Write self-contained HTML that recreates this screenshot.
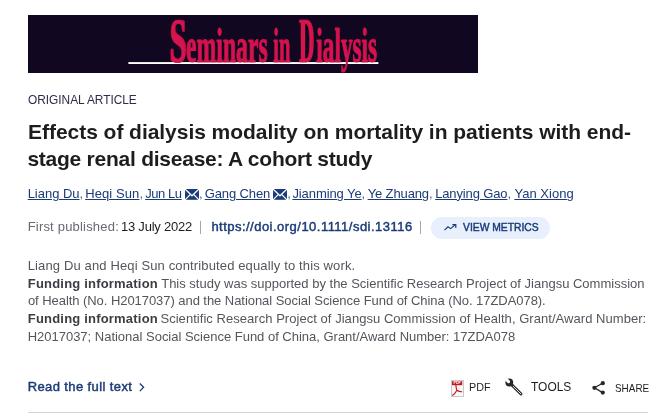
<!DOCTYPE html>
<html lang="en"><head><meta charset="utf-8"><title>Effects of dialysis modality on mortality in patients with end-stage renal disease: A cohort study</title>
<style>
html,body{margin:0;padding:0;background:#fff;}
body{width:668px;height:417px;position:relative;overflow:hidden;font-family:"Liberation Sans",sans-serif;color:#1c1d1e;}
.l{position:absolute;white-space:nowrap;line-height:1;transform-origin:0 0;}
.l a{text-decoration:underline;text-decoration-thickness:1px;text-underline-offset:1px;}
.cm{color:#5f6670;letter-spacing:0;}
.banner{position:absolute;left:28px;top:15px;width:450px;height:58px;background:#110720;overflow:hidden;}
.hr{position:absolute;left:28px;top:412px;width:620px;height:1px;background:#d2d4d4;}
.pill{position:absolute;left:431px;top:217px;width:119px;height:22px;border-radius:11px;background:#e8f0fd;}
.bar{position:absolute;width:1px;height:13px;top:221px;background:#a3a6ab;}
svg{position:absolute;overflow:visible;}
.env{top:189px;}
</style></head><body>
<svg class="banner" width="450" height="58" viewBox="28 15 450 58" style="left:28px;top:15px;background:#110720;overflow:hidden">
<rect x="128.4" y="62.1" width="250" height="1.9" fill="#fff"/>
<defs><filter id="hb" x="-10%" y="-10%" width="120%" height="120%"><feOffset in="SourceGraphic" dx="1" dy="0" result="a"/><feMerge><feMergeNode in="a"/><feMergeNode in="SourceGraphic"/></feMerge></filter></defs><g font-family="Liberation Serif, serif" font-weight="bold" fill="#d5124d" stroke="#d5124d" stroke-linejoin="round">
<g filter="url(#hb)"><text transform="translate(169.25,62.3) scale(0.4804,1)" font-size="63.5" stroke-width="0.6">S</text></g>
<text transform="translate(186.02,62.3) scale(0.4892,1)" font-size="48.5" stroke-width="1.2">eminars</text>
<text transform="translate(273.33,62.3) scale(0.4244,1)" font-size="48.5" stroke-width="1.2">in</text>
<g filter="url(#hb)"><text transform="translate(298.73,62.3) scale(0.3277,1)" font-size="63.5" stroke-width="0.3">D</text></g>
<text transform="translate(316.32,62.3) scale(0.4805,1)" font-size="48.5" stroke-width="1.2">ialysis</text>
</g></svg>
<div class="l" style="left:28.16px;top:93px;font-size:13px;color:#2c2c4c;transform:scaleX(0.9126);">ORIGINAL ARTICLE</div>
<div class="pill"></div>
<div class="l" style="left:28.08px;top:121px;font-size:21px;color:#1c1d1e;font-weight:bold;letter-spacing:-0.043px;">Effects of dialysis modality on mortality in patients with end-</div>
<div class="l" style="left:27.39px;top:148px;font-size:21px;color:#1c1d1e;font-weight:bold;letter-spacing:-0.242px;">stage renal disease: A cohort study</div>
<div class="l" style="left:27.67px;top:187px;font-size:13px;color:#1b3b78;letter-spacing:-0.023px;"><a>Liang Du</a><span class="cm">,</span></div>
<div class="l" style="left:85.17px;top:187px;font-size:13px;color:#1b3b78;letter-spacing:0.097px;"><a>Heqi Sun</a><span class="cm">,</span></div>
<div class="l" style="left:145.17px;top:187px;font-size:13px;color:#1b3b78;letter-spacing:-0.428px;"><a>Jun Lu</a></div>
<div class="l" style="left:204.75px;top:187px;font-size:13px;color:#1b3b78;letter-spacing:-0.129px;"><a>Gang Chen</a></div>
<div class="l" style="left:292.42px;top:187px;font-size:13px;color:#1b3b78;letter-spacing:-0.088px;"><a>Jianming Ye</a><span class="cm">,</span></div>
<div class="l" style="left:367.63px;top:187px;font-size:13px;color:#1b3b78;letter-spacing:-0.117px;"><a>Ye Zhuang</a><span class="cm">,</span></div>
<div class="l" style="left:435.17px;top:187px;font-size:13px;color:#1b3b78;letter-spacing:-0.135px;"><a>Lanying Gao</a><span class="cm">,</span></div>
<div class="l" style="left:514.38px;top:187px;font-size:13px;color:#1b3b78;letter-spacing:0.053px;"><a>Yan Xiong</a></div>
<div class="l" style="left:27.67px;top:220px;font-size:13px;color:#666a71;letter-spacing:0.197px;">First published:</div>
<div class="l" style="left:121px;top:220px;font-size:13px;color:#1c1d1e;letter-spacing:-0.233px;">13 July 2022</div>
<div class="l" style="left:211.38px;top:220px;font-size:13px;color:#1b3b78;-webkit-text-stroke:0.45px #1b3b78;letter-spacing:0.477px;">https://doi.org/10.1111/sdi.13116</div>
<div class="l" style="left:463.19px;top:222px;font-size:11px;color:#1b3b78;-webkit-text-stroke:0.45px #1b3b78;transform:scaleX(0.9382);">VIEW METRICS</div>
<div class="l" style="left:27.67px;top:259px;font-size:13px;color:#53565c;letter-spacing:0.136px;">Liang Du and Heqi Sun contributed equally to this work.</div>
<div class="l" style="left:27.75px;top:277px;font-size:13px;color:#3a3d42;font-weight:bold;letter-spacing:0.201px;">Funding information</div>
<div class="l" style="left:161.19px;top:277px;font-size:13px;color:#53565c;letter-spacing:-0.001px;">This study was supported by the Scientific Research Project of Jiangsu Commission</div>
<div class="l" style="left:27.92px;top:294px;font-size:13px;color:#53565c;letter-spacing:-0.055px;">of Health (No. H2017037) and the National Social Science Fund of China (No. 17ZDA078).</div>
<div class="l" style="left:27.75px;top:312px;font-size:13px;color:#3a3d42;font-weight:bold;letter-spacing:0.201px;">Funding information</div>
<div class="l" style="left:160.45px;top:312px;font-size:13px;color:#53565c;letter-spacing:0.042px;">Scientific Research Project of Jiangsu Commission of Health, Grant/Award Number:</div>
<div class="l" style="left:27.67px;top:330px;font-size:13px;color:#53565c;letter-spacing:-0.01px;">H2017037; National Social Science Fund of China, Grant/Award Number: 17ZDA078</div>
<div class="l" style="left:27.71px;top:380px;font-size:13px;color:#1b3b78;-webkit-text-stroke:0.45px #1b3b78;letter-spacing:0.391px;">Read the full text</div>
<div class="l" style="left:469px;top:382px;font-size:11px;color:#1c1d1e;transform:scaleX(0.9795);">PDF</div>
<div class="l" style="left:531.22px;top:381px;font-size:12.5px;color:#1c1d1e;transform:scaleX(0.9564);">TOOLS</div>
<div class="l" style="left:614.83px;top:383px;font-size:11px;color:#1c1d1e;transform:scaleX(0.901);">SHARE</div>
<svg class="env" style="left:184.6px" width="14" height="10.8" viewBox="0 0 14 10.8"><rect width="14" height="10.8" fill="#1b3b78"/><path d="M0 0L7 6.8L14 0M0 10.8L5.4 5.3M14 10.8L8.6 5.3" stroke="#fff" stroke-width="1.2" fill="none"/></svg>
<div class="l cm" style="left:198.9px;top:187px;font-size:13px">,</div>
<svg class="env" style="left:273px" width="14" height="10.8" viewBox="0 0 14 10.8"><rect width="14" height="10.8" fill="#1b3b78"/><path d="M0 0L7 6.8L14 0M0 10.8L5.4 5.3M14 10.8L8.6 5.3" stroke="#fff" stroke-width="1.2" fill="none"/></svg>
<div class="l cm" style="left:287.3px;top:187px;font-size:13px">,</div>
<div class="bar" style="left:200px"></div>
<div class="bar" style="left:420px"></div>
<svg style="left:443.5px;top:223.5px" width="13" height="7" viewBox="0 0 13 7"><path d="M0.5 6.2L4 2.8L6.6 4.6L11 1" stroke="#1b3b78" stroke-width="1.15" fill="none"/><path d="M8.4 0.6H11.8V4" stroke="#1b3b78" stroke-width="1.15" fill="none"/></svg>
<svg style="left:139px;top:383px" width="6" height="9" viewBox="0 0 6 9"><path d="M0.8 0.5L4.6 4.3L0.8 8.1" stroke="#1b3b78" stroke-width="1.3" fill="none"/></svg>
<svg style="left:451px;top:380px" width="13" height="17" viewBox="451 380 13 17"><rect x="451.5" y="380.5" width="12" height="16" fill="#f7f7f7" stroke="#c9c9c9" stroke-width="1"/><rect x="452" y="381.2" width="10.2" height="4" fill="#c4161c"/><text x="453.6" y="384.4" font-family="Liberation Sans, sans-serif" font-weight="bold" font-size="3.6" fill="#fff">PDF</text><path d="M455.9 385.4C456 387.5 456.4 389 456.9 390.2C455.8 392.4 454 394.3 452.6 395.2M456.9 390.2C458.4 391.4 460 391.9 461.8 391.8" stroke="#c4161c" stroke-width="1.1" fill="none" stroke-linecap="round"/></svg>
<svg style="left:504px;top:378px" width="20" height="18" viewBox="504 378 20 18"><path d="M511.3 384.4L521 394" stroke="#26272b" stroke-width="2.9" stroke-linecap="round" fill="none"/><path d="M513.2 386.3L520.9 393.9" stroke="#fff" stroke-width="0.9" stroke-linecap="round" fill="none"/><circle cx="509.3" cy="382.5" r="3.9" fill="#26272b"/><path d="M508.5 381.7L504.5 377.7" stroke="#fff" stroke-width="3.1" stroke-linecap="round" fill="none"/></svg>
<svg style="left:592px;top:381px" width="14" height="14" viewBox="592 381 14 14"><path d="M602.7 383.2L594.4 387.8L602.7 392.6" stroke="#26272b" stroke-width="1.3" fill="none"/><circle cx="594.4" cy="387.8" r="2.1" fill="#26272b"/><circle cx="602.8" cy="383.2" r="2.1" fill="#26272b"/><circle cx="602.8" cy="392.6" r="2.1" fill="#26272b"/></svg>
<div class="hr"></div>
</body></html>
